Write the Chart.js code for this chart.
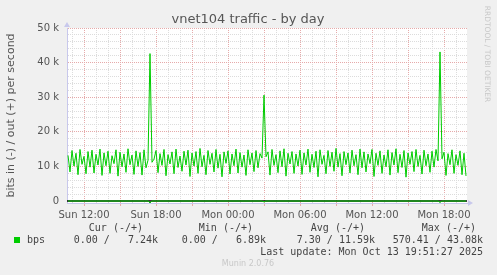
<!DOCTYPE html>
<html>
<head>
<meta charset="utf-8">
<script src="https://cdn.jsdelivr.net/npm/chart.js@4.4.1/dist/chart.umd.min.js"></script>
<style>
  html, body { margin: 0; padding: 0; background: #f0f0f0; }
  canvas { display: block; }
</style>
</head>
<body>
<canvas id="munin" width="497" height="275"></canvas>
<script>
// time axis is in minutes after Sun 00:00
const startMinute = 640;      // first 10-minute sample
const stepMinutes = 10;

// out (+) traffic, k bits per second
const outValues = [
  13.2, 8.4, 14.6, 10.1, 13.8, 7.6, 14.9, 10.6, 12.9, 7.9, 14.3, 9.8, 14.7, 8.1, 13.5, 10.4, 15.0, 7.4, 13.9, 10.2,
  14.4, 8.0, 13.1, 10.8, 14.8, 7.2, 14.1, 9.9, 13.6, 8.3, 15.1, 10.5, 13.3, 7.7, 14.5, 10.0, 14.0, 7.5, 14.8, 9.6,
  11.8, 42.6, 11.2, 12.1, 14.6, 8.2, 13.7, 10.3, 14.9, 7.3, 13.4, 10.7, 14.2, 7.9, 15.0, 9.7, 13.0, 8.6, 14.4, 10.4,
  14.7, 7.1, 13.9, 10.1, 14.3, 8.0, 15.2, 9.9, 13.2, 7.6, 14.6, 10.6, 13.8, 8.4, 14.9, 9.5, 13.5, 7.0, 14.2, 10.9,
  14.5, 7.8, 13.6, 10.2, 15.0, 8.1, 14.0, 9.8, 13.3, 7.4, 14.8, 10.5, 13.9, 8.5, 14.6, 9.6, 13.7, 12.4, 30.6, 12.8,
  14.2, 7.5, 14.9, 10.3, 13.4, 8.2, 14.5, 9.9, 15.1, 7.2, 13.8, 10.7, 14.3, 8.0, 13.6, 10.1, 14.7, 7.7, 13.9, 10.4,
  15.0, 8.3, 13.5, 9.7, 14.4, 7.0, 14.8, 10.6, 13.2, 7.9, 14.6, 10.0, 14.1, 8.6, 15.2, 9.8, 13.7, 7.3, 14.3, 10.5,
  13.9, 8.1, 14.7, 10.2, 13.4, 7.6, 15.0, 9.6, 14.2, 8.4, 13.6, 10.8, 14.9, 7.1, 13.8, 10.3, 14.5, 8.0, 13.3, 9.9,
  14.8, 7.5, 14.0, 10.4, 15.1, 8.2, 13.5, 9.7, 14.6, 6.9, 13.9, 10.6, 14.3, 8.5, 14.9, 10.0, 13.2, 7.8, 14.7, 10.2,
  13.6, 8.3, 14.4, 9.8, 14.9, 11.6, 43.08, 12.2, 14.1, 7.4, 13.7, 10.5, 14.8, 8.0, 13.4, 10.3, 14.5, 7.6, 13.8, 7.24
];

// in (-) traffic, k bits per second (almost always zero)
const inTimes  = [640, 1040, 1050, 1060, 1610, 1620, 1630, 2490, 2500, 2510, 2630];
const inValues = [0, 0, -0.57, 0, 0, -0.25, 0, 0, -0.42, 0, 0];

const xTickValues = [720, 1080, 1440, 1800, 2160, 2520];
const xTickLabels = ['Sun 12:00', 'Sun 18:00', 'Mon 00:00', 'Mon 06:00', 'Mon 12:00', 'Mon 18:00'];
const yTickValues = [0, 10, 20, 30, 40, 50];
const yTickLabels = ['0', '10 k', '20 k', '30 k', '40 k', '50 k'];

const legendHeaders = ['Cur (-/+)', 'Min (-/+)', 'Avg (-/+)', 'Max (-/+)'];
const legendCells = ['0.00 /   7.24k', '0.00 /   6.89k', '7.30 / 11.59k', '570.41 / 43.08k'];
const seriesName = 'bps';
const lastUpdate = 'Last update: Mon Oct 13 19:51:27 2025';

const GREEN = '#00cc00';
const MAJOR = '#e6aaaa';
const MINOR = '#dcdcdc';
const AXIS = '#c8c8ec';

const hourTicks = [];
for (let t = 660; t <= 2635; t += 60) hourTicks.push({ value: t });
const yGridTicks = [];
for (let v = 0; v <= 50; v += 2) yGridTicks.push({ value: v });

const outData = outValues.map((v, i) => ({ x: startMinute + i * stepMinutes, y: v }));
const inData = inValues.map((v, i) => ({ x: inTimes[i], y: v }));

const muninDecor = {
  id: 'muninDecor',
  beforeDraw(chart) {
    const { ctx, chartArea: a } = chart;
    ctx.save();
    ctx.fillStyle = '#f0f0f0';
    ctx.fillRect(0, 0, chart.width, chart.height);
    ctx.fillStyle = '#ffffff';
    ctx.fillRect(a.left, a.top, a.right - a.left, a.bottom - a.top);
    ctx.restore();
  },
  beforeDatasetsDraw(chart) {
    const { ctx, chartArea: a } = chart;
    const y0 = chart.scales.y.getPixelForValue(0);
    ctx.save();
    ctx.strokeStyle = '#000';
    ctx.lineWidth = 1.5;
    ctx.beginPath();
    ctx.moveTo(a.left, y0);
    ctx.lineTo(a.right, y0);
    ctx.stroke();
    ctx.restore();
  },
  afterDraw(chart) {
    const { ctx, chartArea: a } = chart;
    ctx.save();

    // axis arrows
    ctx.fillStyle = AXIS;
    ctx.beginPath();
    ctx.moveTo(a.left - 3, a.top - 1);
    ctx.lineTo(a.left + 3, a.top - 1);
    ctx.lineTo(a.left, a.top - 6);
    ctx.fill();
    ctx.beginPath();
    ctx.moveTo(a.right + 1, a.bottom - 3);
    ctx.lineTo(a.right + 1, a.bottom + 3);
    ctx.lineTo(a.right + 6, a.bottom);
    ctx.fill();

    // title
    ctx.fillStyle = '#555';
    ctx.textBaseline = 'middle';
    ctx.textAlign = 'center';
    ctx.font = '13px "DejaVu Sans"';
    ctx.fillText('vnet104 traffic - by day', 248, 20);

    // y axis title
    ctx.save();
    ctx.translate(11, (a.top + a.bottom) / 2);
    ctx.rotate(-Math.PI / 2);
    ctx.font = '11px "DejaVu Sans"';
    ctx.fillText('bits in (-) / out (+) per second', 0, 0);
    ctx.restore();

    // watermark
    ctx.save();
    ctx.translate(487, 54);
    ctx.rotate(Math.PI / 2);
    ctx.fillStyle = '#c8c8c8';
    ctx.font = '7.5px "DejaVu Sans"';
    ctx.fillText('RRDTOOL / TOBI OETIKER', 0, 0);
    ctx.restore();

    // legend table
    ctx.font = '10px "DejaVu Sans Mono"';
    ctx.fillStyle = '#444';
    ctx.textAlign = 'right';
    const headRight = [143, 253, 365, 476];
    const cellRight = [158, 266, 375, 483];
    legendHeaders.forEach((h, i) => ctx.fillText(h, headRight[i], 228));
    legendCells.forEach((c, i) => ctx.fillText(c, cellRight[i], 240));
    ctx.fillText(lastUpdate, 483, 252);
    ctx.textAlign = 'left';
    ctx.fillText(seriesName, 27, 240);
    ctx.fillStyle = GREEN;
    ctx.fillRect(14, 237, 6, 6);

    ctx.textAlign = 'center';
    ctx.fillStyle = '#c8c8c8';
    ctx.font = '8px "DejaVu Sans"';
    ctx.fillText('Munin 2.0.76', 248, 264);
    ctx.restore();
  }
};

new Chart(document.getElementById('munin'), {
  type: 'line',
  data: {
    datasets: [
      { label: 'out', data: outData, borderColor: GREEN, borderWidth: 1, pointRadius: 0, tension: 0 },
      { label: 'in', data: inData, borderColor: GREEN, borderWidth: 1, pointRadius: 0, tension: 0, clip: false }
    ]
  },
  options: {
    responsive: false,
    animation: false,
    events: [],
    layout: { padding: { top: 28, right: 30, left: 0, bottom: 0 } },
    plugins: { legend: { display: false }, tooltip: { enabled: false }, title: { display: false } },
    scales: {
      x: {
        type: 'linear',
        min: 635,
        max: 2635,
        afterBuildTicks: axis => { axis.ticks = hourTicks.slice(); },
        afterFit: axis => { axis.height = 72; },
        border: { color: AXIS, width: 1, dash: [1, 1] },
        grid: {
          color: c => (c.tick && c.tick.value % 180 === 0) ? MAJOR : MINOR,
          tickColor: c => (c.tick && c.tick.value % 180 === 0) ? MAJOR : 'rgba(0,0,0,0)',
          tickLength: 3,
          drawTicks: true
        },
        ticks: {
          autoSkip: false,
          maxRotation: 0,
          padding: 3,
          color: '#555',
          font: { family: 'DejaVu Sans', size: 10 },
          callback: v => {
            const k = xTickValues.indexOf(v);
            return k >= 0 ? xTickLabels[k] : '';
          }
        }
      },
      y: {
        type: 'linear',
        min: -0.57,
        max: 50,
        afterBuildTicks: axis => { axis.ticks = yGridTicks.slice(); },
        afterFit: axis => { axis.width = 67; },
        border: { color: AXIS, width: 1, dash: [1, 1] },
        grid: {
          color: c => {
            if (!c.tick) return MINOR;
            if (c.tick.value === 0) return 'rgba(0,0,0,0)';
            return c.tick.value % 10 === 0 ? MAJOR : MINOR;
          },
          drawTicks: false
        },
        ticks: {
          autoSkip: false,
          padding: 8,
          color: '#555',
          font: { family: 'DejaVu Sans', size: 10 },
          callback: v => {
            const k = yTickValues.indexOf(v);
            return k >= 0 ? yTickLabels[k] : '';
          }
        }
      }
    }
  },
  plugins: [muninDecor]
});
</script>
</body>
</html>
